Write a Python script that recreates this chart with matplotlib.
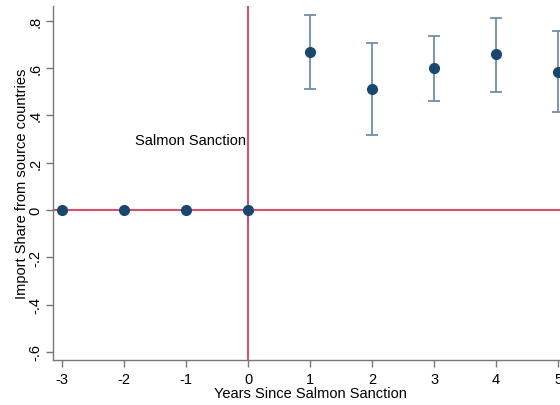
import matplotlib.pyplot as plt
import numpy as np

plt.rcParams['font.family'] = ['Liberation Sans', 'DejaVu Sans']

years = [-3, -2, -1, 0, 1, 2, 3, 4, 5]
coef = [0, 0, 0, 0, 0.667, 0.513, 0.599, 0.657, 0.585]
ci_lo = [0, 0, 0, 0, 0.513, 0.317, 0.462, 0.498, 0.413]
ci_hi = [0, 0, 0, 0, 0.825, 0.707, 0.736, 0.813, 0.756]
yticks = [-0.6, -0.4, -0.2, 0, 0.2, 0.4, 0.6, 0.8]
ylabs = ['-.6', '-.4', '-.2', '0', '.2', '.4', '.6', '.8']

navy = '#1a476f'
bar_c = '#6f8dab'
red = '#d5506f'

fig = plt.figure(figsize=(5.6, 4.06), dpi=100)
ax = fig.add_axes([0.0946, 0.1108, 0.918, 0.872])

coef = np.array(coef)
lo = np.array(ci_lo)
hi = np.array(ci_hi)
post = np.array(years) > 0
ax.errorbar(np.array(years)[post], coef[post],
            yerr=[coef[post] - lo[post], hi[post] - coef[post]],
            fmt='none', ecolor=bar_c, elinewidth=1.3, capsize=4, capthick=1.3, zorder=2)
ax.axhline(0, color=red, lw=1.5, zorder=1)
ax.axvline(0, color=red, lw=1.5, zorder=1)
ax.plot(years, coef, 'o', color=navy, ms=7, zorder=3)

ax.text(-0.03, 0.295, 'Salmon Sanction', ha='right', va='center', fontsize=10.5)

ax.set_xlim(-3.145, 5.145)
ax.set_ylim(-0.634, 0.862)
ax.set_xticks(years)
ax.set_xticklabels([str(y) for y in years])
ax.set_yticks(yticks)
ax.set_yticklabels(ylabs, rotation=90, va='center')
ax.tick_params(labelsize=10.5, length=5, color='#777777', width=1)
ax.tick_params(axis='y', pad=2.5)
for s in ['top', 'right']:
    ax.spines[s].set_visible(False)
for s in ['left', 'bottom']:
    ax.spines[s].set_color('#777777')
    ax.spines[s].set_linewidth(1)

ax.set_xlabel('Years Since Salmon Sanction', fontsize=10.5, labelpad=0)
ax.set_ylabel('Import Share from source countries', fontsize=10.5)
ax.yaxis.set_label_coords(-0.046, 0.5)

fig.savefig('out.png', dpi=100)
